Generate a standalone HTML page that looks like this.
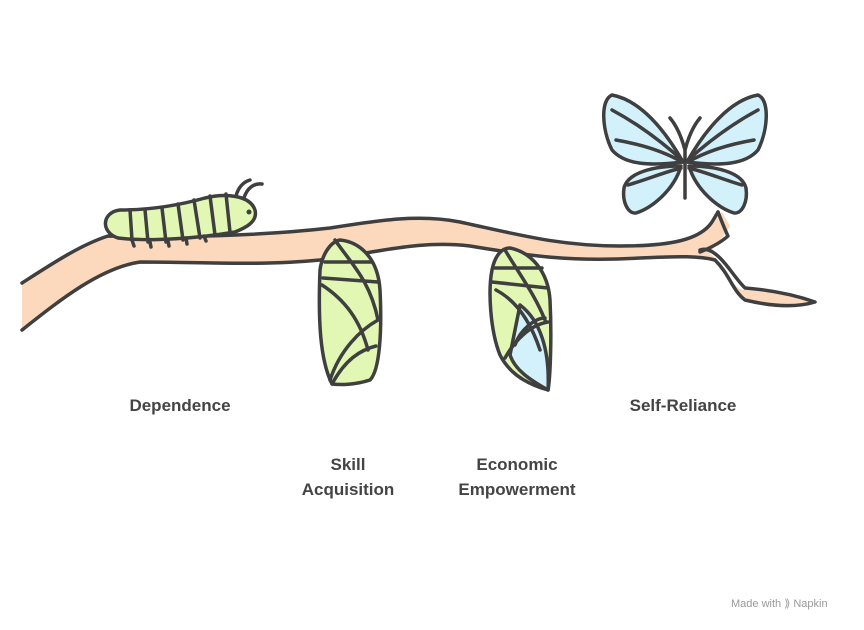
<!DOCTYPE html>
<html><head><meta charset="utf-8"><style>
html,body{margin:0;padding:0;background:#fff;width:864px;height:630px;overflow:hidden}
svg{display:block}
text{font-family:"Liberation Sans",sans-serif;font-weight:bold;fill:#444}
</style></head><body>
<svg width="864" height="630" viewBox="0 0 864 630">
<!-- branch fill -->
<path d="M22,283 C50,265 80,245 108,236 C170,238 260,236 330,228 C380,220 420,214 460,222 C520,235 560,246 620,246 C670,246 700,240 712,222 L722,212 L730,226 C722,240 712,248 710,254 C730,270 732,290 745,290 C770,292 795,295 818,302 C795,310 770,310 745,300 C732,290 730,275 715,262 C700,256 680,256 640,258 C570,262 530,256 470,246 C420,240 380,252 320,260 C260,266 200,262 140,262 C100,268 60,300 22,330 Z" fill="#fcd9bd"/>
<g fill="none" stroke="#3f3f3f" stroke-width="3.5" stroke-linecap="round" stroke-linejoin="round">
<path d="M22,283 C50,265 80,245 108,236 C170,238 260,236 330,228 C380,220 420,214 460,222 C520,235 560,246 620,246 C670,246 700,240 712,222 L718,212"/>
<path d="M22,330 C60,300 100,268 140,262 C200,262 260,266 320,260 C380,252 420,240 470,246 C530,256 570,262 640,258 C680,256 700,256 715,260 C730,275 732,290 745,300 C770,306 795,308 815,302 C795,295 770,290 745,288 C735,278 730,268 720,258 C712,250 705,248 700,250"/>
<path d="M718,212 C722,222 725,230 728,236 C718,245 705,250 700,252"/>
</g>
<!-- caterpillar -->
<g stroke="#3f3f3f" stroke-width="3.5" fill="#e3f7b5" stroke-linecap="round" stroke-linejoin="round">
<path d="M118,238 C100,232 102,212 120,210 C150,210 180,205 205,198 C225,193 250,195 255,210 C258,222 245,228 235,232 C200,238 150,242 118,238 Z"/>
<path d="M236,196 C238,188 243,182 250,180 M244,198 C247,188 254,183 262,184" fill="none"/>
<circle cx="249" cy="212" r="2.5" fill="#3f3f3f" stroke="none"/>
<path d="M130,210 L132,240 M145,210 L148,242 M162,208 L166,242 M178,204 L183,240 M194,200 L200,238 M210,196 L215,235 M226,194 L230,232" fill="none"/>
<path d="M132,240 L134,246 M150,242 L151,247 M168,241 L169,246 M186,238 L187,244 M204,236 L206,241" fill="none"/>
</g>
<!-- chrysalis 1 -->
<g stroke="#3f3f3f" stroke-width="3.5" stroke-linecap="round" stroke-linejoin="round">
<path d="M340,240 C360,242 378,258 380,290 C382,330 380,370 370,380 C355,385 340,385 332,384 C320,360 318,320 320,270 C322,255 330,242 340,240 Z" fill="#e3f7b5"/>
<path d="M325,262 L372,262 M323,278 L378,282 M335,240 C350,262 370,280 378,320 M322,285 C345,300 360,320 368,350 M330,380 C340,350 360,330 378,320 M332,384 C345,360 360,350 376,346" fill="none"/>
</g>
<!-- chrysalis 2 -->
<g stroke="#3f3f3f" stroke-width="3.5" stroke-linecap="round" stroke-linejoin="round">
<path d="M510,248 C530,252 548,270 550,300 C552,340 550,380 548,390 C530,385 510,375 500,355 C490,330 488,290 492,270 C495,255 502,248 510,248 Z" fill="#e3f7b5"/>
<path d="M520,305 C540,320 550,350 548,390 C530,380 515,370 510,355 Z" fill="#d2f1fb"/>
<path d="M495,268 L542,268 M492,282 L548,288 M505,250 C520,275 535,295 545,320 M496,290 C515,300 530,320 540,350 M515,345 C520,330 535,318 545,318 M505,358 C515,340 530,325 548,322" fill="none"/>
</g>
<!-- butterfly -->
<g stroke="#3f3f3f" stroke-width="3.5" fill="#d2f1fb" stroke-linecap="round" stroke-linejoin="round">
<path d="M683,162 C665,130 640,100 612,95 C600,100 602,130 612,150 C625,165 650,166 683,162 Z"/>
<path d="M687,162 C705,130 730,100 758,95 C770,100 768,130 758,150 C745,165 720,166 687,162 Z"/>
<path d="M681,166 C655,166 628,172 624,188 C622,202 628,214 636,213 C652,208 674,190 681,166 Z"/>
<path d="M689,166 C715,166 742,172 746,188 C748,202 742,214 734,213 C718,208 696,190 689,166 Z"/>
<path d="M685,150 L685,198 M685,150 C681,135 676,125 670,118 M685,150 C689,135 694,125 700,118 M612,110 C640,125 662,142 682,160 M758,110 C730,125 708,142 688,160 M616,140 C645,145 665,152 682,162 M754,140 C725,145 705,152 688,162 M628,185 C645,180 665,172 681,168 M742,185 C725,180 705,172 689,168" fill="none"/>
</g>
<g font-size="17">
<text x="180" y="411" text-anchor="middle">Dependence</text>
<text x="348" y="470" text-anchor="middle">Skill</text>
<text x="348" y="495" text-anchor="middle">Acquisition</text>
<text x="517" y="470" text-anchor="middle">Economic</text>
<text x="517" y="495" text-anchor="middle">Empowerment</text>
<text x="683" y="411" text-anchor="middle">Self-Reliance</text>
</g>
<text x="731" y="607" font-size="11" style="font-weight:normal;fill:#999">Made with ⟫ Napkin</text>
</svg>
</body></html>
